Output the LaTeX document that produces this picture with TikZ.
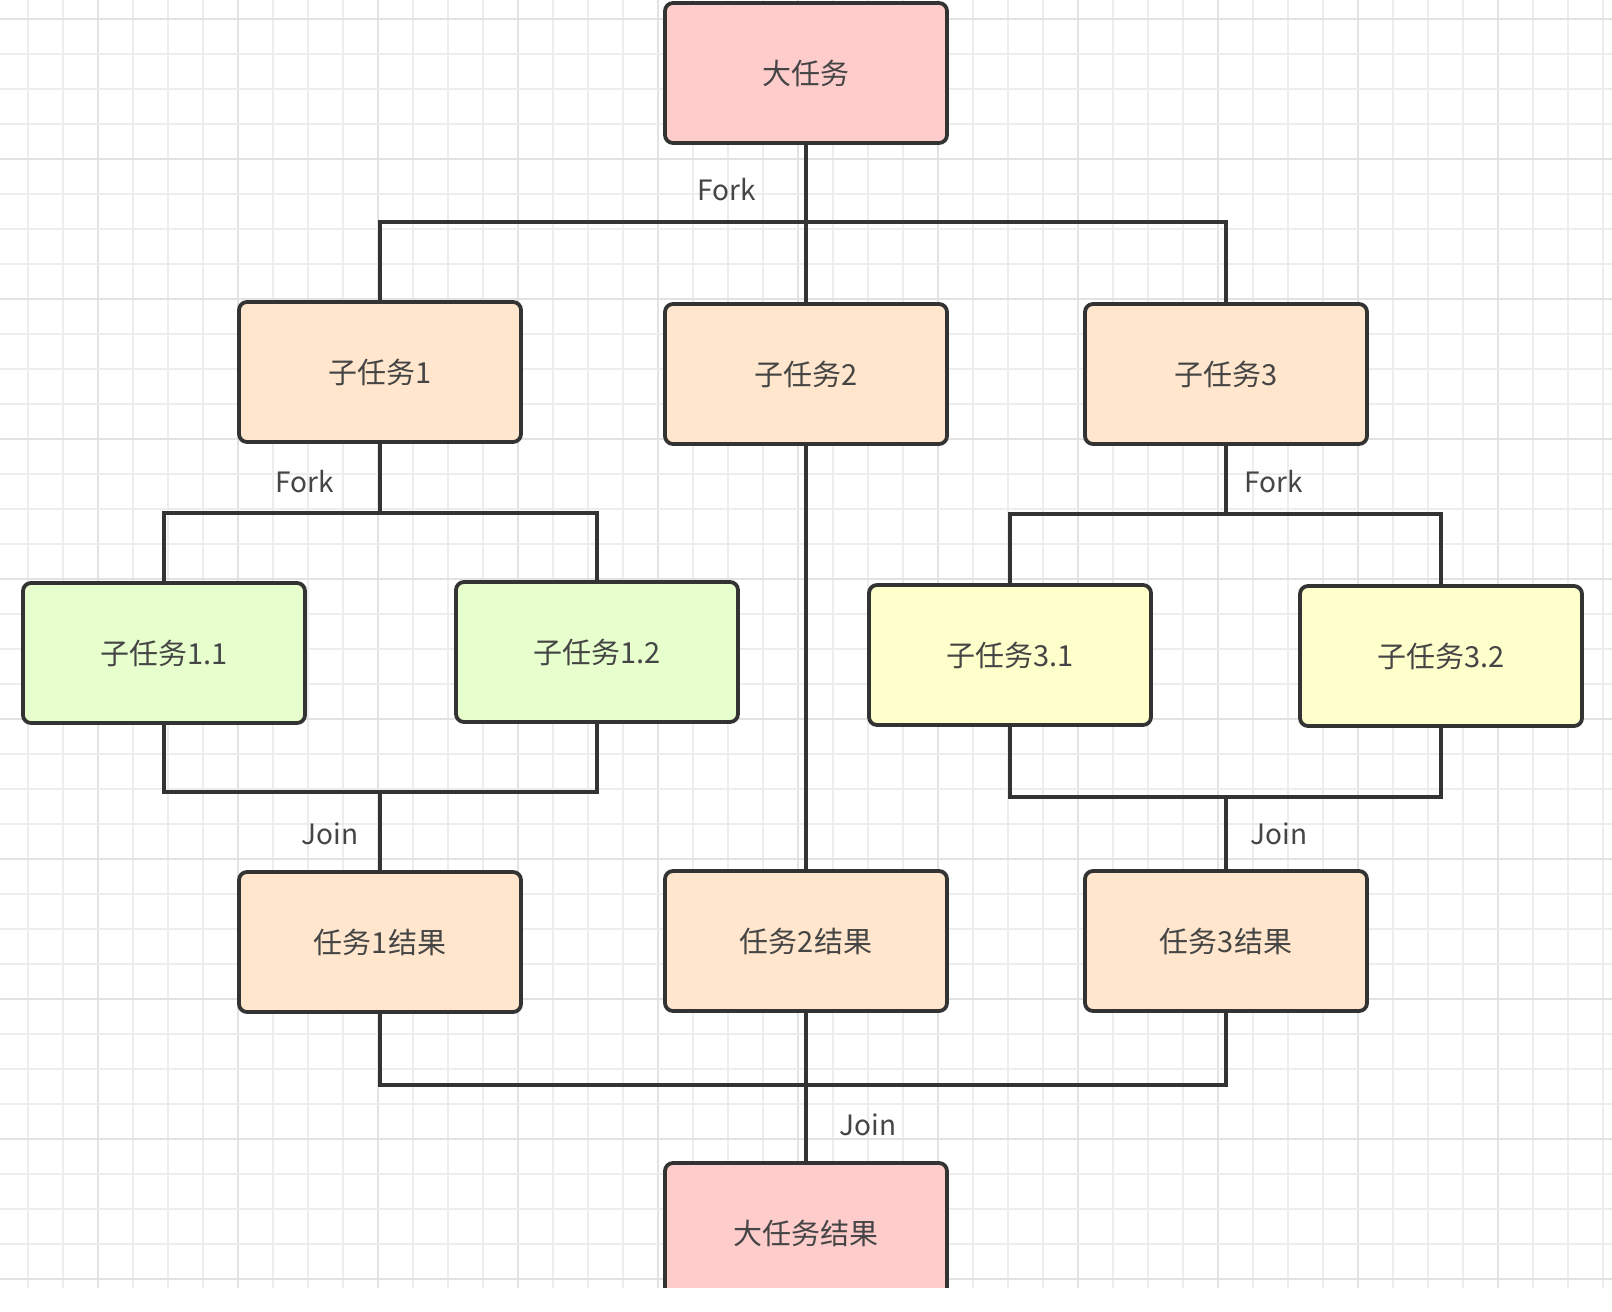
\documentclass[tikz,border=0pt]{standalone}
\usepackage{fontspec}
\setmainfont{Noto Sans CJK SC}
\newfontfamily\cjk{Noto Sans CJK SC}
\definecolor{gridminor}{HTML}{EDEDED}
\definecolor{gridmajor}{HTML}{E2E2E2}
\definecolor{boxline}{HTML}{333333}
\definecolor{txt}{HTML}{454545}
\definecolor{pinkfill}{HTML}{FFCCCC}
\definecolor{orangefill}{HTML}{FFE6CC}
\definecolor{greenfill}{HTML}{E6FFCC}
\definecolor{yellowfill}{HTML}{FFFFCC}
\tikzset{
  taskbox/.style={draw=boxline, line width=3.8pt, rounded corners=8pt,
    minimum width=282pt, minimum height=140pt, inner sep=0pt,
    font=\cjk\fontsize{29}{33}\selectfont, text=txt},
  bigbox/.style={taskbox, fill=pinkfill},
  subbox/.style={taskbox, fill=orangefill},
  greenbox/.style={taskbox, fill=greenfill},
  yellowbox/.style={taskbox, fill=yellowfill},
  conn/.style={draw=boxline, line width=3.4pt},
  lbl/.style={font=\cjk\fontsize{28}{32}\selectfont, text=txt, inner sep=0pt},
}
\begin{document}
\begin{tikzpicture}[x=1pt,y=-1pt]
\useasboundingbox (0,0) rectangle (1612,1312);
\fill[white] (0,0) rectangle (1612,1312);
% grid
\foreach \k in {0,...,45} {
  \pgfmathtruncatemacro{\m}{mod(\k,4)}
  \ifnum\m=2
    \draw[gridmajor, line width=1.6pt] ({28+35*\k},0) -- ({28+35*\k},1288);
  \else
    \draw[gridminor, line width=1.4pt] ({28+35*\k},0) -- ({28+35*\k},1288);
  \fi
}
\foreach \k in {0,...,36} {
  \pgfmathtruncatemacro{\m}{mod(\k,4)}
  \ifnum\m=0
    \draw[gridmajor, line width=1.6pt] (0,{19+35*\k}) -- (1612,{19+35*\k});
  \else
    \draw[gridminor, line width=1.4pt] (0,{19+35*\k}) -- (1612,{19+35*\k});
  \fi
}
% boxes
\node[bigbox] (big) at (806,73) {大任务};
\node[subbox] (s1) at (380,372) {子任务1};
\node[subbox] (s2) at (806,374) {子任务2};
\node[subbox] (s3) at (1226,374) {子任务3};
\node[greenbox] (s11) at (164,653) {子任务1.1};
\node[greenbox] (s12) at (597,652) {子任务1.2};
\node[yellowbox] (s31) at (1010,655) {子任务3.1};
\node[yellowbox] (s32) at (1441,656) {子任务3.2};
\node[subbox] (r1) at (380,942) {任务1结果};
\node[subbox] (r2) at (806,941) {任务2结果};
\node[subbox] (r3) at (1226,941) {任务3结果};
\node[bigbox] (final) at (806,1233) {大任务结果};
% junction points
\coordinate (f0) at (big.south |- 0,222);
\coordinate (f1) at (s1.south |- 0,513);
\coordinate (f3) at (s3.south |- 0,514);
\coordinate (j1) at (r1.north |- 0,792);
\coordinate (j3) at (r3.north |- 0,797);
\coordinate (j0) at (final.north |- 0,1085);
% connectors
\draw[conn] (big.south) -- (f0);
\draw[conn] (s1.north) |- (f0) -| (s3.north);
\draw[conn] (f0) -- (s2.north);
\draw[conn] (s1.south) -- (f1);
\draw[conn] (s11.north) |- (f1) -| (s12.north);
\draw[conn] (s11.south) |- (j1) -| (s12.south);
\draw[conn] (j1) -- (r1.north);
\draw[conn] (s2.south) -- (r2.north);
\draw[conn] (s3.south) -- (f3);
\draw[conn] (s31.north) |- (f3) -| (s32.north);
\draw[conn] (s31.south) |- (j3) -| (s32.south);
\draw[conn] (j3) -- (r3.north);
\draw[conn] (r1.south) |- (j0) -| (r3.south);
\draw[conn] (r2.south) -- (final.north);
% labels
\node[lbl] (lf0) at (727,190) {Fork};
\node[lbl] (lf1) at (305,482) {Fork};
\node[lbl] (lf3) at (1274,482) {Fork};
\node[lbl] (lj1) at (330,834) {Join};
\node[lbl] (lj3) at (1279,834) {Join};
\node[lbl] (lj0) at (868,1125) {Join};
% bottom white band
\fill[white] (0,1288) rectangle (1612,1313);
\end{tikzpicture}
\end{document}
